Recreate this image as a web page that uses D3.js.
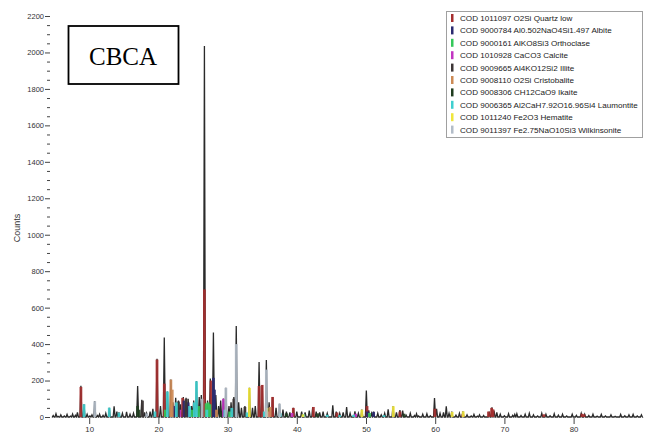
<!DOCTYPE html>
<html>
<head>
<meta charset="utf-8">
<script src="https://cdn.jsdelivr.net/npm/d3@7"></script>
<style>
  html, body { margin: 0; padding: 0; background: #fff; }
  svg { display: block; }
</style>
</head>
<body>
<svg id="chart" width="649" height="444"></svg>
<script>
// ---------------- DATA ----------------
const sampleLabel = "CBCA";
const yTickValues = [0, 200, 400, 600, 800, 1000, 1200, 1400, 1600, 1800, 2000, 2200];
const xTickValues = [10, 20, 30, 40, 50, 60, 70, 80];

const phaseNames = [
  "COD 1011097 O2Si Quartz low",
  "COD 9000784 Al0.502NaO4Si1.497 Albite",
  "COD 9000161 AlKO8Si3 Orthoclase",
  "COD 1010928 CaCO3 Calcite",
  "COD 9009665 Al4KO12Si2 Illite",
  "COD 9008110 O2Si Cristobalite",
  "COD 9008306 CH12CaO9 Ikaite",
  "COD 9006365 Al2CaH7.92O16.96Si4 Laumontite",
  "COD 1011240 Fe2O3 Hematite",
  "COD 9011397 Fe2.75NaO10Si3 Wilkinsonite"
];
const phaseColors = ["#a52f2f", "#2a2a70", "#35c85a", "#c235c2", "#3d3636",
                     "#cc8a55", "#1f3d1f", "#3fcfcf", "#efe63c", "#b2bcc8"];

// observed pattern peaks: [2theta, counts]
const observedPeaks = [
  [4.8,8],[5.2,18],[5.5,4],[5.9,12],[6.4,6],[6.8,14],[7.3,5],[7.6,16],[8.0,9],[8.3,25],
  [8.8,172],[9.25,70],[9.7,15],[10.1,6],[10.4,12],[10.8,86],[11.2,8],[11.5,15],[12.0,9],[12.4,20],
  [12.9,51],[13.6,58],[14.0,30],[14.3,25],[14.8,20],[15.4,28],[15.9,15],[16.4,20],
  [17.0,170],[17.6,95],[18.0,25],[18.3,20],[18.8,30],[19.2,45],[19.8,320],[20.3,60],
  [20.85,436],[21.3,140],[21.8,205],[22.1,80],[22.5,105],[22.9,90],[23.2,70],[23.6,110],
  [24.0,105],[24.3,100],[24.8,60],[25.1,90],[25.5,196],[25.9,110],[26.2,120],[26.65,2035],
  [27.1,90],[27.5,211],[27.95,464],[28.3,120],[28.7,60],[29.0,90],[29.4,101],[29.75,160],
  [30.2,60],[30.5,80],[30.9,110],[31.25,499],[31.6,80],[32.0,50],[32.5,60],[33.15,160],
  [33.6,50],[34.0,60],[34.55,302],[35.0,176],[35.6,312],[36.0,80],[36.5,110],[37.0,50],
  [37.5,73],[38.0,40],[38.5,30],[39.0,25],[39.5,50],[40.0,30],[40.7,30],[41.2,25],
  [41.8,35],[42.3,55],[42.8,30],[43.3,25],[43.8,30],[44.4,20],[45.2,64],[45.7,30],
  [46.2,20],[46.7,25],[47.2,55],[47.7,20],[48.4,31],[48.9,20],[49.4,40],[50.05,145],
  [50.4,37],[50.8,20],[51.1,30],[51.7,20],[52.2,12],[52.7,20],[53.2,42],[53.9,59],
  [54.4,25],[54.9,38],[55.3,35],[55.8,10],[56.4,20],[57.0,8],[57.3,18],[57.6,6],[58.2,15],
  [58.8,18],[59.3,7],[59.9,104],[60.2,45],[60.7,20],[61.2,25],[61.6,58],[62.0,20],
  [62.4,30],[63.0,10],[63.5,20],[64.0,31],[64.6,12],[65.2,6],[65.6,14],[66.1,5],[66.4,12],
  [67.0,8],[67.8,30],[68.2,53],[68.5,35],[68.9,25],[69.4,15],[70.0,7],[70.6,18],
  [71.2,9],[71.5,14],[71.8,18],[72.4,8],[73.0,15],[73.6,20],[74.2,12],[74.8,6],[75.4,20],
  [76.0,15],[76.6,7],[77.2,18],[77.8,10],[78.4,15],[79.0,6],[79.8,15],[80.4,9],
  [81.1,20],[81.6,15],[82.2,8],[82.8,15],[83.4,5],[84.0,14],[84.6,6],[85.4,12],
  [86.0,4],[86.8,14],[87.4,7],[88.0,12],[88.6,14],[89.2,6],[89.8,12]
];

// phase contributions: [2theta, counts, phase index]
const phasePeaks = [
  [8.8,165,0],[19.8,315,0],[20.85,183,0],[26.65,700,0],[27.6,200,0],[23.5,105,0],[34.55,170,0],[35.0,176,0],
  [36.5,110,0],[39.5,50,0],[42.4,55,0],[45.8,25,0],[50.15,60,0],[54.9,30,0],
  [59.95,45,0],[64.0,15,0],[67.7,30,0],[68.15,50,0],[68.35,42,0],[75.7,15,0],[81.2,18,0],[81.5,15,0],
  [27.95,215,1],[28.1,150,1],[23.7,90,1],[22.2,60,1],[24.3,80,1],[50.2,30,1],[51.1,28,1],
  [26.9,75,2],[27.2,80,2],[27.45,70,2],[25.8,60,2],[24.9,40,2],[21.0,40,2],[30.3,30,2],[50.5,22,2],
  [29.4,100,3],[23.1,40,3],[36.0,30,3],[39.3,22,3],[48.5,18,3],
  [17.7,90,4],[22.9,85,4],[24.0,100,4],[30.9,100,4],[32.5,55,4],
  [21.8,205,5],[22.0,150,5],[28.4,40,5],[36.15,55,5],
  [17.0,60,6],[17.2,40,6],[29.0,30,6],[38.5,20,6],[43.0,20,6],[55.5,18,6],
  [9.25,70,7],[12.9,51,7],[14.3,24,7],[19.5,30,7],[21.3,140,7],[22.6,80,7],
  [25.5,196,7],[25.2,80,7],[24.5,60,7],[27.0,40,7],[29.6,40,7],[30.6,50,7],
  [32.8,25,7],[35.3,30,7],[37.6,20,7],[41.0,15,7],[44.4,12,7],[46.2,10,7],[48.2,12,7],[52.6,10,7],
  [33.15,160,8],[35.7,50,8],[40.9,15,8],[49.4,40,8],[53.95,59,8],[62.45,28,8],[64.05,31,8],
  [10.8,86,9],[18.3,20,9],[29.75,160,9],[31.25,400,9],[35.6,260,9],[37.5,73,9],[26.3,100,9]
];

// ---------------- CHART ----------------
const svg = d3.select("#chart");
const x = d3.scaleLinear().domain([0, 90]).range([20, 642.8]);
const y = d3.scaleLinear().domain([0, 2200]).range([417, 16]);
const hw = 0.14;
const fmt = d3.format("d");

// y axis major + minor ticks
const yAxis = d3.axisLeft(y).tickValues(yTickValues).tickSize(5).tickPadding(1).tickFormat(fmt);
const gy = svg.append("g").attr("transform", "translate(50,0)").call(yAxis);
gy.select(".domain").remove();
gy.selectAll("text").attr("font-family", "Liberation Sans, Arial, sans-serif").attr("font-size", 7.5).attr("fill", "#333");
gy.selectAll("line").attr("stroke", "#444");
const minorY = d3.range(0, 2201, 50).filter(v => v % 200 !== 0);
const gym = svg.append("g").attr("transform", "translate(50,0)")
  .call(d3.axisLeft(y).tickValues(minorY).tickSize(3).tickFormat(""));
gym.select(".domain").remove();
gym.selectAll("line").attr("stroke", "#444");

// x axis
const xAxis = d3.axisBottom(x).tickValues(xTickValues).tickSize(6).tickPadding(2).tickFormat(fmt);
const gx = svg.append("g").attr("transform", "translate(0,418)").call(xAxis);
gx.select(".domain").remove();
gx.selectAll("text").attr("font-family", "Liberation Sans, Arial, sans-serif").attr("font-size", 7.8).attr("fill", "#333");
gx.selectAll("line").attr("stroke", "#444");

// y label
svg.append("text")
  .attr("transform", "translate(20,228) rotate(-90)")
  .attr("text-anchor", "middle")
  .attr("font-family", "Liberation Sans, Arial, sans-serif")
  .attr("font-size", 9).attr("fill", "#333")
  .text("Counts");

// observed profile
const pts = [[4.6, 0]];
observedPeaks.forEach(([t, c]) => { pts.push([t - hw, 0], [t, c], [t + hw, 0]); });
pts.push([89.9, 0]);
const line = d3.line().x(d => x(d[0])).y(d => y(d[1]));
svg.append("path").datum(pts)
  .attr("d", line).attr("fill", "none")
  .attr("stroke", "#2a2a2a").attr("stroke-width", 1.3).attr("stroke-linejoin", "miter");

// phase contributions as coloured bars
svg.append("g").selectAll("rect").data(phasePeaks).join("rect")
  .attr("x", d => x(d[0]) - 1.4)
  .attr("width", 2.8)
  .attr("y", d => y(d[1]))
  .attr("height", d => y(0) - y(d[1]))
  .attr("fill", d => phaseColors[d[2]])
  .attr("opacity", 0.9);

// sample label box
svg.append("rect").attr("x", 68.5).attr("y", 26).attr("width", 110).attr("height", 58)
  .attr("fill", "#fff").attr("stroke", "#000").attr("stroke-width", 1.8);
svg.append("text").attr("x", 123).attr("y", 65).attr("text-anchor", "middle")
  .attr("font-family", "Liberation Serif, Times New Roman, serif").attr("font-size", 25)
  .attr("fill", "#000").text(sampleLabel);

// legend
const lg = svg.append("g");
lg.append("rect").attr("x", 446.5).attr("y", 11.5).attr("width", 196).attr("height", 126)
  .attr("fill", "#fff").attr("stroke", "#a0a0a0").attr("stroke-width", 1);
const items = lg.selectAll("g.item").data(phaseNames).join("g")
  .attr("transform", (d, i) => `translate(0, ${18 + i * 12.4})`);
items.append("rect").attr("x", 451).attr("y", -4).attr("width", 2.5).attr("height", 8)
  .attr("fill", (d, i) => phaseColors[i]);
items.append("text").attr("x", 460).attr("y", 3)
  .attr("font-family", "Liberation Sans, Arial, sans-serif").attr("font-size", 8.1)
  .attr("fill", "#222").text(d => d);
</script>
</body>
</html>
